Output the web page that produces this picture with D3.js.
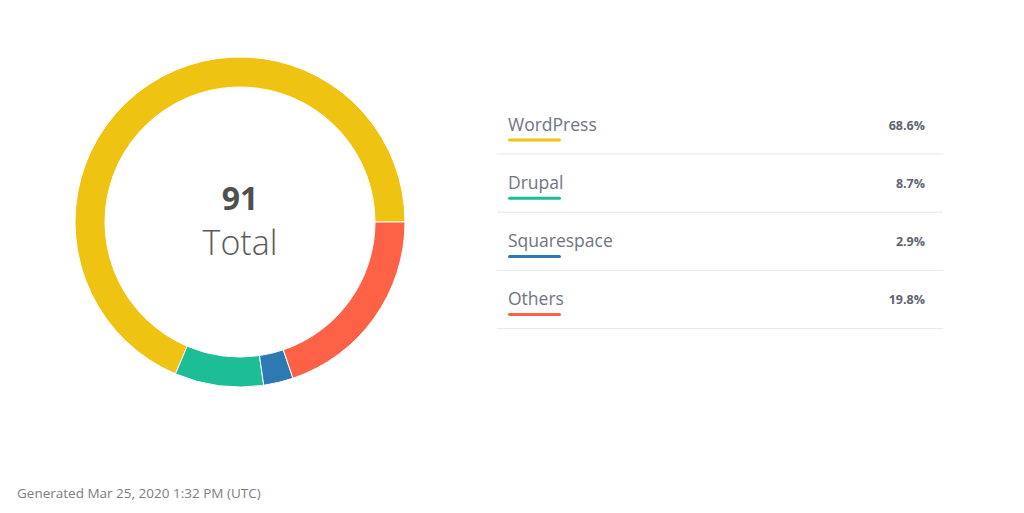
<!DOCTYPE html>
<html>
<head>
<meta charset="utf-8">
<script src="https://cdn.jsdelivr.net/npm/d3@7"></script>
<style>
  body { margin: 0; background: #fff; }
  svg { display: block; font-family: "Open Sans", sans-serif; }
</style>
</head>
<body>
<div id="chart"></div>
<script>
// data
const categories = ["WordPress", "Drupal", "Squarespace", "Others"];
const shares = [68.6, 8.7, 2.9, 19.8];
const colors = ["#EFC311", "#1DBD98", "#2D79B4", "#FD6246"];
const total = 91;
const drawOrder = ["Others", "Squarespace", "Drupal", "WordPress"]; // clockwise from 3 o'clock

const width = 1024, height = 513;

const svg = d3.select("#chart")
    .append("svg")
    .attr("width", width)
    .attr("height", height);

// Donut
const cx = 240, cy = 222, outerR = 165, innerR = 135;

const color = d3.scaleOrdinal().domain(categories).range(colors);

const pie = d3.pie()
    .sort((a, b) => drawOrder.indexOf(a.name) - drawOrder.indexOf(b.name))
    .value(d => d.value)
    .startAngle(Math.PI / 2)
    .endAngle(Math.PI / 2 + 2 * Math.PI);

const arc = d3.arc().innerRadius(innerR).outerRadius(outerR);

const data = categories.map((c, i) => ({name: c, value: shares[i]}));

const g = svg.append("g")
    .attr("transform", `translate(${cx},${cy})`);

g.selectAll("path")
    .data(pie(data))
    .join("path")
    .attr("d", arc)
    .attr("fill", d => color(d.data.name))
    .attr("stroke", "#fff")
    .attr("stroke-width", 1);

g.append("text")
    .attr("text-anchor", "middle")
    .attr("y", -12)
    .style("font-size", "32px")
    .style("font-weight", "700")
    .style("fill", "#4f4f4f")
    .text(total);

g.append("text")
    .attr("text-anchor", "middle")
    .attr("y", 33)
    .style("font-size", "34px")
    .style("font-weight", "300")
    .style("fill", "#5a5a5a")
    .text("Total");

// Legend table
const legX = 508, legRight = 925, rowTop = 105.5, rowH = 58.2;

const y = d3.scaleBand()
    .domain(categories)
    .range([rowTop, rowTop + rowH * categories.length])
    .padding(0);

const rows = svg.append("g")
    .selectAll("g")
    .data(data)
    .join("g")
    .attr("transform", d => `translate(0,${y(d.name)})`);

rows.append("text")
    .attr("x", legX)
    .attr("y", 25)
    .style("font-size", "17.5px")
    .style("fill", "#6f7482")
    .text(d => d.name);

rows.append("rect")
    .attr("x", legX)
    .attr("y", 33)
    .attr("width", 53)
    .attr("height", 3)
    .attr("rx", 1.5)
    .attr("fill", d => color(d.name));

rows.append("text")
    .attr("x", legRight)
    .attr("y", 24)
    .attr("text-anchor", "end")
    .style("font-size", "12.5px")
    .style("font-weight", "700")
    .style("fill", "#5d6372")
    .text(d => d3.format(".1f")(d.value) + "%");

rows.append("line")
    .attr("x1", 497)
    .attr("x2", 943)
    .attr("y1", 48.5)
    .attr("y2", 48.5)
    .attr("stroke", "#e6e7ea")
    .attr("stroke-width", 1);

// Footer
svg.append("text")
    .attr("x", 17)
    .attr("y", 498)
    .style("font-size", "13.5px")
    .style("fill", "#7d7d7d")
    .text("Generated Mar 25, 2020 1:32 PM (UTC)");
</script>
</body>
</html>
